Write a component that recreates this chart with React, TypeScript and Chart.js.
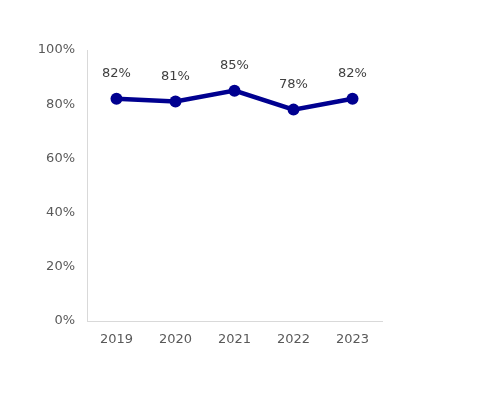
import React, { useEffect, useRef } from "react";
import { Chart, registerables } from "chart.js";

Chart.register(...registerables);

const years = ["2019", "2020", "2021", "2022", "2023"];
const values = [82, 81, 85, 78, 82];
const yTicks = [0, 20, 40, 60, 80, 100];

const labelPlugin = {
  id: "pointLabels",
  afterDatasetsDraw(chart: any) {
    const ctx = chart.ctx;
    const meta = chart.getDatasetMeta(0);
    ctx.save();
    ctx.font = "13px 'DejaVu Sans'";
    ctx.fillStyle = "#404040";
    ctx.textAlign = "center";
    ctx.textBaseline = "middle";
    meta.data.forEach((pt: any, i: number) => {
      ctx.fillText(values[i] + "%", pt.x, pt.y - 25);
    });
    ctx.restore();
  },
};

export default function App() {
  const ref = useRef<HTMLCanvasElement | null>(null);
  useEffect(() => {
    document.body.style.margin = "0";
    const chart = new Chart(ref.current!, {
      type: "line",
      data: {
        labels: years,
        datasets: [
          {
            data: values,
            borderColor: "#000090",
            backgroundColor: "#000090",
            borderWidth: 4.5,
            pointRadius: 6,
            pointHoverRadius: 6,
            pointBackgroundColor: "#000090",
            pointBorderWidth: 0,
            tension: 0,
          },
        ],
      },
      options: {
        responsive: false,
        animation: false,
        layout: { padding: { top: 50, right: 98, left: 0, bottom: 0 } },
        plugins: { legend: { display: false }, tooltip: { enabled: false } },
        scales: {
          x: {
            offset: true,
            grid: { display: false, drawTicks: false },
            border: { display: true, color: "#d9d9d9", width: 1 },
            ticks: {
              padding: 11,
              color: "#595959",
              font: { family: "'DejaVu Sans'", size: 13 },
              maxRotation: 0,
            },
            afterFit(scale: any) {
              scale.height = 74;
            },
          },
          y: {
            min: 0,
            max: 100,
            grid: { display: false, drawTicks: false },
            border: { display: true, color: "#d9d9d9", width: 1 },
            afterBuildTicks(scale: any) {
              scale.ticks = yTicks.map((v) => ({ value: v }));
            },
            ticks: {
              padding: 12,
              color: "#595959",
              font: { family: "'DejaVu Sans'", size: 13 },
              callback: (v: any) => v + "%",
            },
            afterFit(scale: any) {
              scale.width = 87;
            },
          },
        },
      },
      plugins: [labelPlugin],
    });
    return () => chart.destroy();
  }, []);
  return <canvas ref={ref} width={480} height={395} style={{ display: "block" }} />;
}
